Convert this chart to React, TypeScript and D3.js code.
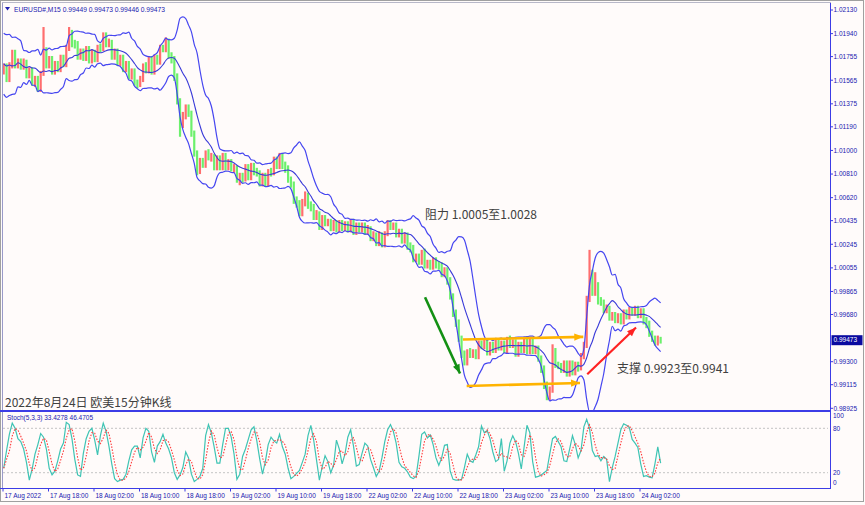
import React from "react";
import * as d3 from "d3";

// ---------- data (30-minute points, each spanning two M15 bars) ----------
// closes before the first visible point, only used to seed the Bollinger window
const priorCloses = [1.0176, 1.016, 1.0186, 1.0166, 1.015, 1.0178, 1.019, 1.017, 1.0155];
const firstOpen = 1.0164;
const closes = [
  1.0167, 1.01574, 1.01685, 1.01787, 1.01687, 1.01717, 1.01673, 1.01711, 1.01608, 1.01644,
  1.01542, 1.01572, 1.01494, 1.01618, 1.01808, 1.01687, 1.01735, 1.01631, 1.01693, 1.01657,
  1.01741, 1.01697, 1.01828, 1.01948, 1.01858, 1.01854, 1.01751, 1.01797, 1.01743, 1.01815,
  1.01727, 1.01789, 1.01737, 1.01823, 1.0182, 1.0192, 1.01858, 1.01862, 1.01759, 1.01797,
  1.01703, 1.01749, 1.01655, 1.01693, 1.01598, 1.01636, 1.01544, 1.01534, 1.0157, 1.01677,
  1.01649, 1.01735, 1.01639, 1.01741, 1.01713, 1.01821, 1.01812, 1.0188, 1.01761, 1.01731,
  1.01594, 1.01405, 1.01212, 1.0128, 1.01343, 1.01298, 1.01139, 1.00986, 1.00838, 1.00912,
  1.00884, 1.00984, 1.00942, 1.00944, 1.00868, 1.00936, 1.00868, 1.00952, 1.0086, 1.00904,
  1.00852, 1.00862, 1.00765, 1.00799, 1.00771, 1.00863, 1.00787, 1.00872, 1.00828, 1.00821,
  1.00733, 1.00799, 1.00731, 1.00823, 1.00822, 1.0092, 1.00876, 1.0096, 1.00878, 1.00853,
  1.00765, 1.00733, 1.00596, 1.0058, 1.00498, 1.00582, 1.0063, 1.00554, 1.0054, 1.00465,
  1.00493, 1.00385, 1.00453, 1.00419, 1.00421, 1.00377, 1.00413, 1.00369, 1.00413, 1.00377,
  1.00405, 1.00361, 1.00429, 1.00345, 1.00397, 1.00361, 1.00397, 1.00345, 1.0037, 1.00298,
  1.00322, 1.00256, 1.00322, 1.00248, 1.0033, 1.00411, 1.00387, 1.00395, 1.00329, 1.00346,
  1.0028, 1.00314, 1.00232, 1.00216, 1.00129, 1.00145, 1.00103, 1.00187, 1.00073, 1.00097,
  1.00071, 1.00115, 1.00079, 1.00073, 1.00008, 1.00032, 0.99952, 0.99835, 0.9969, 0.99618,
  0.99489, 0.99368, 0.99292, 0.9938, 0.99354, 0.99372, 0.99346, 0.99445, 0.99421, 0.99455,
  0.99379, 0.99431, 0.99395, 0.99463, 0.99419, 0.99447, 0.99395, 0.99479, 0.99437, 0.99455,
  0.99363, 0.99439, 0.99395, 0.99471, 0.99387, 0.99463, 0.99389, 0.99404, 0.99324, 0.99248,
  0.99119, 0.99042, 0.99074, 0.99393, 0.99276, 0.99268, 0.99234, 0.99286, 0.99202, 0.99286,
  0.99218, 0.9927, 0.99252, 0.99348, 0.99425, 0.99795, 0.99996, 0.99856, 0.99922, 0.99795,
  0.99783, 0.99719, 0.99726, 0.99654, 0.9967, 0.99636, 0.99662, 0.9963, 0.99694, 0.9967,
  0.99718, 0.99695, 0.99726, 0.99678, 0.99702, 0.9963, 0.99604, 0.99527, 0.99489, 0.99457,
  0.99481, 0.99473,
];
const highs = [
  1.017, 1.017, 1.0171, 1.0181, 1.0181, 1.0174, 1.0174, 1.0174, 1.0173, 1.0167,
  1.0167, 1.016, 1.016, 1.0164, 1.01993, 1.0183, 1.0176, 1.0176, 1.0172, 1.0172,
  1.0177, 1.0177, 1.0185, 1.01993, 1.0197, 1.0189, 1.0188, 1.0182, 1.0182, 1.0184,
  1.0184, 1.0181, 1.0181, 1.0185, 1.0186, 1.0195, 1.0195, 1.019, 1.0189, 1.0182,
  1.0182, 1.0177, 1.0177, 1.0172, 1.0172, 1.0166, 1.0166, 1.0157, 1.016, 1.017,
  1.0171, 1.0176, 1.0176, 1.0177, 1.0177, 1.0185, 1.0185, 1.0191, 1.019, 1.0179,
  1.0176, 1.0162, 1.0142, 1.0131, 1.0137, 1.0137, 1.0132, 1.0116, 1.01, 1.0094,
  1.0094, 1.01, 1.0101, 1.0098, 1.0097, 1.0096, 1.0096, 1.0098, 1.0098, 1.0093,
  1.0093, 1.0089, 1.0088, 1.0082, 1.0082, 1.0089, 1.0089, 1.009, 1.009, 1.0086,
  1.0084, 1.0082, 1.0082, 1.0085, 1.0086, 1.0095, 1.0095, 1.0098, 1.0098, 1.0091,
  1.0088, 1.0079, 1.0075, 1.0063, 1.006, 1.0061, 1.0067, 1.0066, 1.0059, 1.0057,
  1.0052, 1.0051, 1.0048, 1.0048, 1.0045, 1.0045, 1.0044, 1.0044, 1.0044, 1.0044,
  1.0043, 1.0043, 1.0045, 1.0045, 1.0042, 1.0042, 1.0042, 1.0042, 1.004, 1.0039,
  1.0035, 1.0034, 1.0035, 1.0034, 1.0035, 1.0044, 1.0044, 1.0042, 1.0042, 1.0037,
  1.0037, 1.0034, 1.0034, 1.0026, 1.0024, 1.0017, 1.0017, 1.002, 1.0021, 1.0012,
  1.0012, 1.0014, 1.0014, 1.0011, 1.001, 1.0006, 1.0006, 0.9998, 0.9985, 0.9972,
  0.9964, 0.9951, 0.9939, 0.994, 0.9941, 0.994, 0.994, 0.9947, 0.9947, 0.9948,
  0.9948, 0.9946, 0.9946, 0.9949, 0.9949, 0.9947, 0.9947, 0.995, 0.9951, 0.9948,
  0.9948, 0.9946, 0.9946, 0.9949, 0.9949, 0.9949, 0.9949, 0.9943, 0.9943, 0.9935,
  0.9927, 0.9914, 0.991, 0.9944, 0.9941, 0.993, 0.9929, 0.9931, 0.9931, 0.9931,
  0.9931, 0.993, 0.993, 0.9937, 0.9946, 0.9983, 1.002, 1.0004, 1.0002, 0.9994,
  0.9982, 0.998, 0.9976, 0.9975, 0.997, 0.997, 0.9969, 0.9969, 0.9972, 0.9972,
  0.9974, 0.9974, 0.9975, 0.9975, 0.9973, 0.9973, 0.9966, 0.9963, 0.9955, 0.9951,
  0.9951, 0.995,
];
const lows = [
  1.0161, 1.0155, 1.0155, 1.0166, 1.0166, 1.0166, 1.0165, 1.0165, 1.0158, 1.0158,
  1.0152, 1.0151, 1.0147, 1.0147, 1.016, 1.0166, 1.0166, 1.0161, 1.0161, 1.0163,
  1.0163, 1.0167, 1.0167, 1.018, 1.0183, 1.0182, 1.0173, 1.0173, 1.0172, 1.0172,
  1.017, 1.017, 1.0171, 1.0171, 1.0179, 1.018, 1.0183, 1.0183, 1.0173, 1.0173,
  1.0168, 1.0168, 1.0163, 1.0163, 1.0157, 1.0157, 1.0152, 1.015, 1.0151, 1.0155,
  1.0162, 1.0162, 1.0161, 1.0161, 1.0169, 1.0169, 1.0179, 1.0179, 1.0174, 1.017,
  1.0156, 1.0137, 1.0111, 1.0118, 1.0125, 1.0127, 1.0111, 1.0095, 1.008, 1.0081,
  1.0086, 1.0086, 1.0092, 1.0091, 1.0084, 1.0084, 1.0084, 1.0084, 1.0084, 1.0084,
  1.0083, 1.0082, 1.0074, 1.0072, 1.0074, 1.0075, 1.0076, 1.0076, 1.008, 1.0079,
  1.0071, 1.0071, 1.0071, 1.0071, 1.0079, 1.008, 1.0085, 1.0085, 1.0085, 1.0082,
  1.0074, 1.007, 1.0057, 1.0054, 1.0047, 1.0047, 1.0055, 1.0053, 1.0051, 1.0044,
  1.0044, 1.0036, 1.0036, 1.0039, 1.0039, 1.0035, 1.0035, 1.0034, 1.0034, 1.0035,
  1.0035, 1.0034, 1.0034, 1.0032, 1.0032, 1.0034, 1.0034, 1.0032, 1.0032, 1.0027,
  1.0027, 1.0023, 1.0023, 1.0022, 1.0022, 1.0031, 1.0036, 1.0036, 1.003, 1.003,
  1.0025, 1.0025, 1.002, 1.0018, 1.001, 1.001, 1.0008, 1.0008, 1.0005, 1.0005,
  1.0004, 1.0004, 1.0005, 1.0004, 0.9998, 0.9998, 0.9992, 0.998, 0.9966, 0.9958,
  0.9946, 0.9933, 0.9927, 0.9927, 0.9933, 0.9933, 0.9932, 0.9932, 0.994, 0.994,
  0.9935, 0.9935, 0.9937, 0.9937, 0.9939, 0.9939, 0.9937, 0.9937, 0.9941, 0.9941,
  0.9934, 0.9934, 0.9937, 0.9937, 0.9936, 0.9936, 0.9936, 0.9936, 0.993, 0.9921,
  0.9908, 0.9899, 0.9899, 0.9905, 0.9925, 0.9924, 0.9921, 0.9921, 0.9918, 0.9918,
  0.9919, 0.9919, 0.9922, 0.9923, 0.9932, 0.9941, 0.9978, 0.9983, 0.9983, 0.9976,
  0.9975, 0.9969, 0.9969, 0.9963, 0.9963, 0.9961, 0.9961, 0.996, 0.996, 0.9964,
  0.9964, 0.9967, 0.9967, 0.9965, 0.9965, 0.996, 0.9957, 0.995, 0.9946, 0.9943,
  0.9943, 0.99446,
];
const stochMain = [
  26, 50, 72, 87, 80, 66, 62, 52, 34, 10, 25, 45, 58, 73, 68, 52, 26, 17, 22, 36,
  52, 60, 88, 85, 66, 38, 17, 15, 46, 66, 76, 80, 64, 44, 70, 87, 76, 56, 32, 12,
  8, 10, 11, 18, 36, 51, 56, 56, 40, 67, 80, 76, 48, 34, 56, 62, 72, 60, 52, 40,
  20, 11, 17, 27, 48, 40, 18, 8, 11, 15, 26, 70, 85, 74, 55, 33, 33, 58, 80, 80,
  68, 45, 11, 18, 42, 52, 65, 78, 82, 63, 39, 18, 35, 58, 68, 63, 60, 72, 55, 45,
  26, 12, 15, 19, 23, 34, 45, 70, 84, 64, 37, 10, 28, 43, 35, 20, 30, 64, 52, 32,
  45, 68, 78, 56, 29, 31, 46, 60, 56, 38, 27, 15, 22, 40, 62, 78, 85, 76, 60, 34,
  28, 26, 21, 14, 12, 15, 42, 72, 75, 67, 71, 58, 40, 30, 40, 57, 58, 22, 11, 10,
  10, 11, 27, 45, 36, 34, 44, 55, 83, 74, 77, 66, 48, 35, 38, 66, 22, 36, 60, 70,
  62, 46, 25, 55, 84, 74, 35, 14, 15, 17, 20, 23, 45, 66, 69, 62, 55, 36, 35, 52,
  70, 58, 40, 50, 82, 92, 80, 50, 42, 43, 36, 42, 38, 8, 27, 42, 60, 78, 86, 84,
  81, 65, 60, 54, 32, 15, 16, 14, 13, 32, 55, 33,
];
const priceTicks = [
  1.0213, 1.0194, 1.01755, 1.01565, 1.01375, 1.0119, 1.01, 1.0081, 1.0062, 1.00435,
  1.00245, 1.00055, 0.99865, 0.9968, 0.993, 0.99115, 0.98925,
];
const timeLabels = [
  "17 Aug 2022", "17 Aug 18:00", "18 Aug 02:00", "18 Aug 10:00", "18 Aug 18:00",
  "19 Aug 02:00", "19 Aug 10:00", "19 Aug 18:00", "22 Aug 02:00", "22 Aug 10:00",
  "22 Aug 18:00", "23 Aug 02:00", "23 Aug 10:00", "23 Aug 18:00", "24 Aug 02:00",
];
const stochLevels = [80, 20];
const stochLabels = [100, 80, 20, 0];
const lastPrice = 0.99473;
// annotations in (M15 bar index, price)
const arrows = [
  { from: [296.8, 0.99819], to: [321.4, 0.99205], color: "#139013", width: 2.6 },
  { from: [323.5, 0.99479], to: [408.1, 0.995], color: "#ffb300", width: 2.6 },
  { from: [326.1, 0.99105], to: [405.8, 0.99129], color: "#ffb300", width: 2.6 },
  { from: [410.9, 0.99199], to: [445.2, 0.99575], color: "#ff2222", width: 2.2 },
];

const BAR_PX = 1.4219;
const BARS_PER_POINT = 2;
const BARS_PER_LABEL = 32;
const BB_PERIOD = 10;
const BB_DEV = 2;

const AXIS_BLUE = "#3c3ce6";
const TEXT_BLUE = "#2020b0";
const SMALL_FONT = "'Liberation Sans', Arial, sans-serif";
const CJK_FONT = "'Noto Sans CJK SC', 'Noto Sans', sans-serif";

function arrowHead(x1: number, y1: number, x2: number, y2: number, len: number, half: number) {
  const a = Math.atan2(y2 - y1, x2 - x1);
  const bx = x2 - len * Math.cos(a);
  const by = y2 - len * Math.sin(a);
  const px = -Math.sin(a) * half;
  const py = Math.cos(a) * half;
  return `${x2},${y2} ${bx + px},${by + py} ${bx - px},${by - py}`;
}

export default function App() {
  const left = 3;
  const right = 830;
  const x = d3.scaleLinear().domain([0, (right - left) / BAR_PX]).range([left, right]);
  const y = d3.scaleLinear().domain([0.98925, 1.0213]).range([408.3, 10]);
  const ys = d3.scaleLinear().domain([0, 100]).range([487.5, 413.5]);
  const cx = (k: number) => x(k * BARS_PER_POINT + 0.5);

  const opens = closes.map((c, i) => (i === 0 ? firstOpen : closes[i - 1]));

  const all = [...priorCloses, ...closes];
  const off = priorCloses.length;
  const bands = closes.map((_, i) => {
    const j = i + off;
    const win = all.slice(Math.max(0, j - BB_PERIOD + 1), j + 1);
    const m = d3.mean(win) as number;
    const sd = Math.sqrt(d3.mean(win.map((v) => (v - m) * (v - m))) as number);
    return { m, u: m + BB_DEV * sd, l: m - BB_DEV * sd };
  });
  const bandLine = (key: "m" | "u" | "l") =>
    d3
      .line<{ m: number; u: number; l: number }>()
      .x((_, i) => cx(i))
      .y((d) => y(d[key]))
      .curve(d3.curveMonotoneX)(bands) as string;

  const stochSignal = stochMain.map((_, i) => {
    const win = stochMain.slice(Math.max(0, i - 2), i + 1);
    return d3.mean(win) as number;
  });
  const stLine = (arr: number[]) =>
    d3
      .line<number>()
      .x((_, i) => cx(i))
      .y((d) => ys(d))(arr) as string;

  return (
    <svg
      width={865}
      height={505}
      style={{ position: "fixed", left: 0, top: 0, background: "#fffbfa" }}
    >
      <defs>
        <clipPath id="mainClip">
          <rect x={left} y={3} width={right - left} height={407} />
        </clipPath>
        <clipPath id="stClip">
          <rect x={left} y={412} width={right - left} height={76} />
        </clipPath>
      </defs>
      <rect x={0} y={0} width={865} height={505} fill="#fffbfa" />
      {/* window frame */}
      <rect x={0.5} y={0.5} width={863} height={501} fill="none" stroke="#a0a0a0" />
      <line x1={2.5} y1={2} x2={2.5} y2={488} stroke="#9a9ac8" />
      <line x1={2} y1={2.5} x2={831} y2={2.5} stroke="#b8b8c8" />

      {/* main panel */}
      <g clipPath="url(#mainClip)">
        {closes.map((c, i) => {
          const up = c >= opens[i];
          return (
            <line
              key={i}
              x1={cx(i)}
              x2={cx(i)}
              y1={y(highs[i])}
              y2={y(lows[i])}
              stroke={up ? "#ff6e6e" : "#6cf06c"}
              strokeWidth={2.2}
            />
          );
        })}
        <path d={bandLine("u")} fill="none" stroke="#4646f0" strokeWidth={1.2} />
        <path d={bandLine("l")} fill="none" stroke="#4646f0" strokeWidth={1.2} />
        <path d={bandLine("m")} fill="none" stroke="#3a3ad8" strokeWidth={1.1} />
        {arrows.map((a, i) => {
          const x1 = x(a.from[0]);
          const y1 = y(a.from[1]);
          const x2 = x(a.to[0]);
          const y2 = y(a.to[1]);
          return (
            <g key={i}>
              <line x1={x1} y1={y1} x2={x2} y2={y2} stroke={a.color} strokeWidth={a.width} />
              <polygon points={arrowHead(x1, y1, x2, y2, 9, 3.6)} fill={a.color} />
            </g>
          );
        })}
      </g>

      {/* header */}
      <polygon points="5,7 10,7 7.5,10.5" fill={TEXT_BLUE} />
      <text x={14} y={11.5} fontFamily={SMALL_FONT} fontSize={6.7} fill={TEXT_BLUE}>
        EURUSD#,M15  0.99449 0.99473 0.99446 0.99473
      </text>

      {/* annotations */}
      <text x={425} y={218.5} fontFamily={CJK_FONT} fontSize={12} fill="#404040">
        阻力 1.0005至1.0028
      </text>
      <text x={617} y={372.5} fontFamily={CJK_FONT} fontSize={12} fill="#404040">
        支撑 0.9923至0.9941
      </text>
      <text x={5} y={406.5} fontFamily={CJK_FONT} fontSize={12} fill="#404040">
        2022年8月24日 欧美15分钟K线
      </text>

      {/* price axis */}
      <line x1={right + 0.5} y1={3} x2={right + 0.5} y2={488} stroke={AXIS_BLUE} />
      {priceTicks.map((p) => (
        <g key={p}>
          <line x1={right} x2={right + 3} y1={y(p)} y2={y(p)} stroke={AXIS_BLUE} />
          <text
            x={right + 3.5}
            y={y(p) + 2.3}
            fontFamily={SMALL_FONT}
            fontSize={6.5}
            fill={TEXT_BLUE}
          >
            {p.toFixed(5)}
          </text>
        </g>
      ))}
      <rect x={right + 1.5} y={y(lastPrice) - 5} width={31} height={10} fill="#0a0aa0" />
      <text
        x={right + 3.5}
        y={y(lastPrice) + 2.3}
        fontFamily={SMALL_FONT}
        fontSize={6.5}
        fill="#ffffff"
      >
        {lastPrice.toFixed(5)}
      </text>

      {/* panel separators */}
      <rect x={0} y={410} width={right + 1} height={2} fill={AXIS_BLUE} />
      <line x1={0} x2={right + 1} y1={488.5} y2={488.5} stroke={AXIS_BLUE} />

      {/* stochastic panel */}
      {stochLevels.map((lv) => (
        <line
          key={lv}
          x1={left}
          x2={right - 2}
          y1={ys(lv)}
          y2={ys(lv)}
          stroke="#c4c4c4"
          strokeDasharray="2,2"
        />
      ))}
      <g clipPath="url(#stClip)">
        <path d={stLine(stochMain)} fill="none" stroke="#3fc4b4" strokeWidth={1.2} />
        <path
          d={stLine(stochSignal)}
          fill="none"
          stroke="#ff3a3a"
          strokeWidth={1.1}
          strokeDasharray="1.5,1.5"
        />
      </g>
      <text x={7} y={420} fontFamily={SMALL_FONT} fontSize={6.5} fill={TEXT_BLUE}>
        Stoch(5,3,3) 33.4278 46.4705
      </text>
      {stochLabels.map((lv) => {
        const yy = lv === 100 ? ys(lv) + 4.5 : lv === 0 ? ys(lv) - 2.5 : ys(lv) + 2.3;
        return (
          <text
            key={lv}
            x={right + 3}
            y={yy}
            fontFamily={SMALL_FONT}
            fontSize={6.5}
            fill={TEXT_BLUE}
          >
            {lv}
          </text>
        );
      })}

      {/* time axis */}
      {timeLabels.map((t, i) => {
        const xx = x(i * BARS_PER_LABEL);
        return (
          <g key={t}>
            <line x1={xx} x2={xx} y1={488} y2={491.5} stroke={AXIS_BLUE} />
            <text
              x={xx + 1.5}
              y={497.5}
              fontFamily={SMALL_FONT}
              fontSize={6.5}
              fill={TEXT_BLUE}
            >
              {t}
            </text>
          </g>
        );
      })}
    </svg>
  );
}
